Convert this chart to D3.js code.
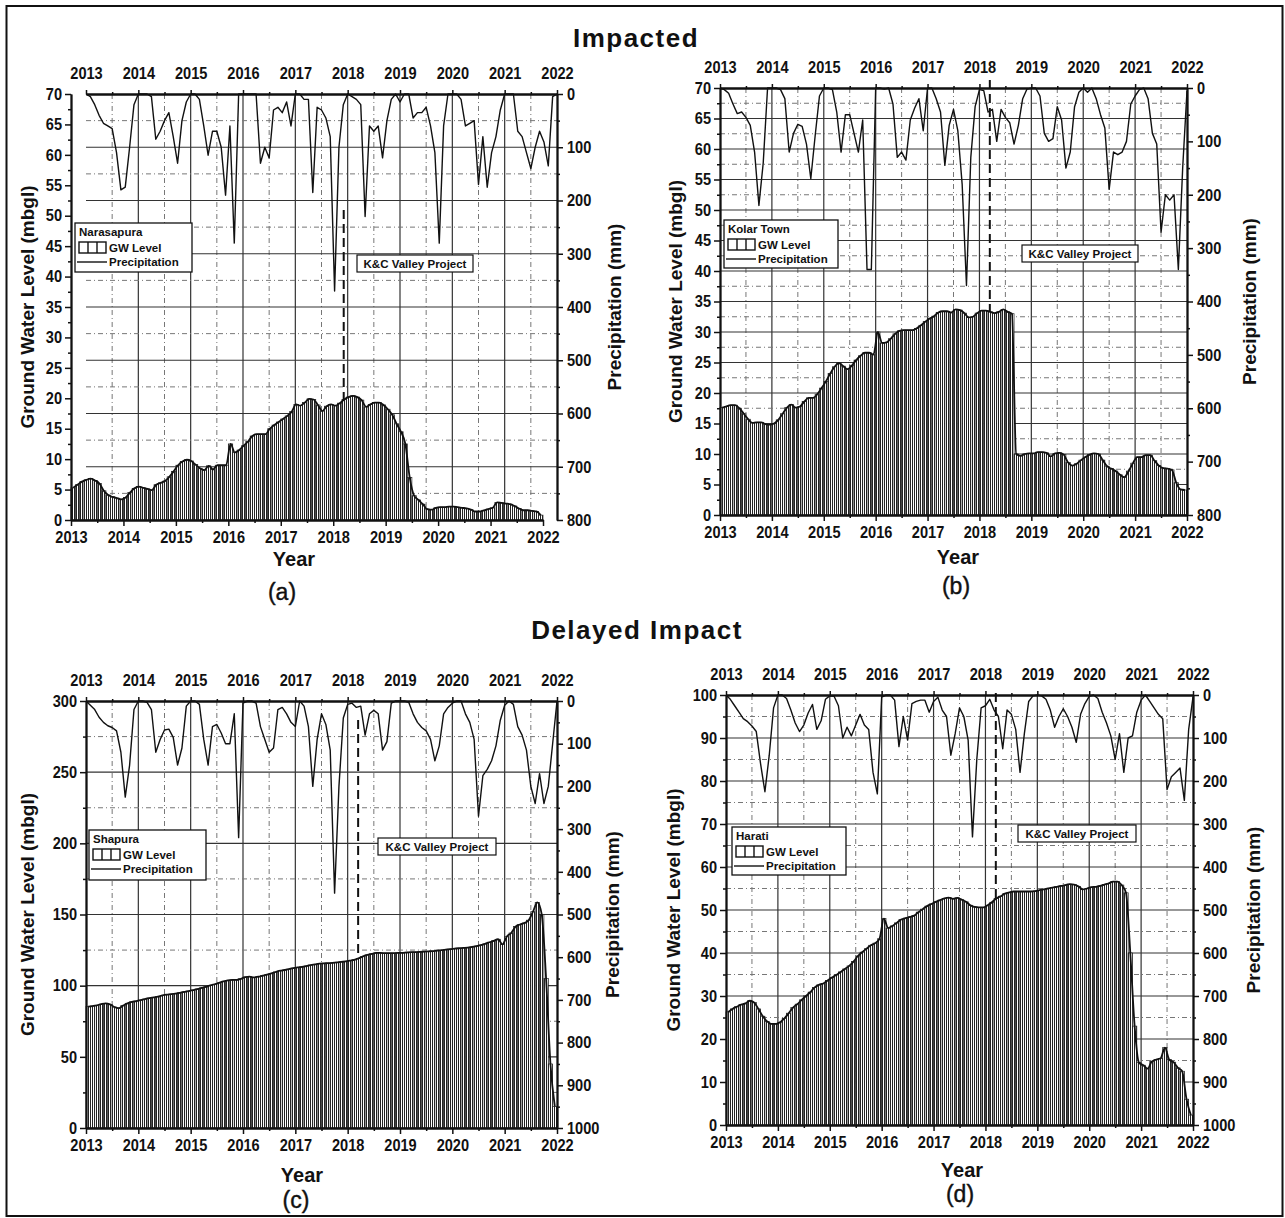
<!DOCTYPE html>
<html>
<head>
<meta charset="utf-8">
<script src="https://cdn.jsdelivr.net/npm/d3@7"></script>
<style>
  body { margin: 0; background: #fff; }
  svg { display: block; }
</style>
</head>
<body>
<svg id="chart" width="1285" height="1218"></svg>
<script>
const startYear = 2013
const yearTicks = [2013, 2014, 2015, 2016, 2017, 2018, 2019, 2020, 2021, 2022]
const projectStart = 2018.2   // K&C Valley Project

// monthly ground water level (mbgl), Jan 2013 .. Dec 2021
const gwNarasapura = [
  5.3, 5.8, 6.3, 6.6, 6.8, 6.5, 6.0, 4.8, 4.1, 3.8, 3.6, 3.4,
  3.7, 4.5, 5.2, 5.5, 5.3, 5.1, 4.9, 5.8, 6.1, 6.4, 7.1, 8.0,
  9.0, 9.6, 9.9, 9.7, 9.1, 8.5, 8.2, 8.9, 8.3, 9.0, 9.0, 9.0,
  12.5, 11.1, 11.5, 12.2, 12.9, 13.8, 14.1, 14.1, 14.1, 15.0, 15.6, 16.1,
  16.6, 17.1, 17.8, 19.0, 18.8, 19.3, 19.9, 19.8, 18.9, 17.9, 18.7, 19.0,
  18.8, 19.2, 19.8, 20.2, 20.4, 20.2, 19.7, 18.6, 19.0, 19.3, 19.3, 18.9,
  18.2, 17.3, 15.8, 14.5, 12.5, 7.0, 4.0, 3.3, 2.6, 1.8, 1.7, 2.0,
  2.1, 2.1, 2.2, 2.2, 2.1, 2.0, 1.9, 1.7, 1.4, 1.4, 1.6, 1.8,
  2.0, 2.9, 2.8, 2.7, 2.6, 2.3, 1.9, 1.6, 1.6, 1.5, 1.4, 0.8
]
const gwKolar = [
  17.6, 17.8, 18.0, 18.0, 17.5, 16.6, 15.7, 15.1, 15.2, 15.2, 14.9, 14.8,
  15.0, 15.6, 16.6, 17.6, 18.1, 17.6, 17.8, 18.6, 19.2, 19.2, 19.8, 20.8,
  21.9, 23.2, 24.3, 24.9, 24.4, 23.9, 24.5, 25.4, 26.1, 26.6, 26.6, 26.3,
  30.0, 28.2, 28.3, 28.9, 29.7, 30.2, 30.3, 30.3, 30.3, 30.6, 31.1, 31.7,
  32.2, 32.6, 33.2, 33.4, 33.4, 33.2, 33.7, 33.6, 33.1, 32.4, 32.5, 33.1,
  33.5, 33.5, 33.3, 33.1, 33.3, 33.7, 33.3, 33.0, 10.0, 9.7, 10.0, 10.1,
  10.1, 10.3, 10.3, 10.2, 9.6, 10.1, 10.2, 9.9, 8.6, 8.1, 8.4, 9.0,
  9.5, 9.9, 10.1, 10.0, 9.0, 8.0, 7.6, 7.2, 6.6, 6.2, 7.2, 8.5,
  9.5, 9.5, 9.8, 9.8, 8.9, 8.1, 7.7, 7.6, 7.4, 5.3, 4.2, 4.1
]
const gwShapura = [
  85.3, 85.7, 86.2, 87.0, 87.5, 86.8, 85.0, 84.2, 86.0, 87.6, 88.6, 89.2,
  89.9, 90.6, 91.3, 91.8, 92.3, 93.1, 93.7, 94.0, 94.4, 95.0, 95.6, 96.2,
  96.9, 97.6, 98.4, 99.2, 100.2, 101.0, 102.0, 103.0, 103.7, 104.0, 104.0, 104.8,
  106.0, 106.3, 105.8, 106.3, 107.0, 107.7, 108.6, 109.6, 110.5, 111.0, 111.6, 112.3,
  112.8, 113.2, 113.8, 114.5, 115.0, 115.5, 115.7, 115.8, 116.0, 116.3, 116.7, 117.0,
  117.6, 118.2, 119.2, 120.6, 121.6, 122.3, 123.0, 123.0, 122.8, 122.8, 122.8, 123.0,
  123.0, 123.3, 123.5, 123.6, 123.7, 123.9, 124.1, 124.3, 124.6, 124.9, 125.3, 125.7,
  126.0, 126.3, 126.5, 126.7, 127.2, 127.8, 128.5, 129.4, 130.5, 131.5, 132.6, 129.0,
  134.5, 137.0, 141.5, 143.0, 144.0, 146.0, 152.0, 158.5, 150.0, 105.0, 45.0, 15.0
]
const gwHarati = [
  26.3, 27.0, 27.5, 28.0, 28.3, 28.9, 28.5, 27.0, 25.3, 24.1, 23.5, 23.5,
  23.9, 24.8, 26.0, 27.3, 28.1, 29.1, 30.0, 30.9, 32.0, 32.6, 32.9, 33.6,
  34.3, 34.9, 35.6, 36.3, 37.0, 38.0, 39.3, 40.2, 41.0, 41.8, 42.3, 43.3,
  48.0, 45.8, 46.3, 47.0, 47.8, 48.1, 48.4, 48.7, 49.5, 50.2, 50.9, 51.4,
  51.9, 52.3, 52.7, 52.9, 52.6, 52.8, 52.4, 51.9, 51.1, 50.7, 50.6, 50.6,
  51.1, 51.8, 52.7, 53.2, 53.8, 54.1, 54.3, 54.3, 54.3, 54.3, 54.3, 54.4,
  54.6, 54.8, 55.0, 55.2, 55.4, 55.6, 55.8, 56.0, 55.9, 55.5, 54.8, 55.0,
  55.3, 55.4, 55.6, 55.9, 56.2, 56.6, 56.6, 55.8, 54.0, 40.0, 23.0, 14.5,
  13.9, 13.1, 14.8, 15.2, 15.5, 18.0, 15.2, 14.6, 13.3, 12.5, 6.0, 2.3
]

// monthly precipitation (mm), Jan 2013 .. Jan 2022
const rainNarasapura = [
  0, 5, 20, 40, 55, 60, 65, 110, 180, 175, 100, 20,
  0, 0, 0, 5, 85, 70, 50, 35, 80, 130, 50, 15,
  0, 0, 10, 60, 115, 70, 70, 100, 190, 60, 280, 0,
  0, 0, 0, 0, 130, 100, 120, 30, 25, 35, 15, 60,
  0, 0, 10, 10, 185, 25, 30, 45, 80, 370, 100, 20,
  0, 5, 10, 20, 230, 60, 70, 60, 120, 50, 10, 0,
  15, 0, 0, 45, 35, 35, 25, 60, 110, 280, 60, 0,
  0, 0, 10, 60, 55, 50, 170, 80, 175, 110, 80, 30,
  0, 0, 0, 70, 80, 110, 140, 100, 70, 90, 135, 5,
  0
]
const rainKolar = [
  0, 3, 10, 30, 48, 45, 55, 70, 120, 220, 140, 0,
  0, 0, 3, 20, 120, 85, 68, 72, 105, 170, 90, 15,
  0, 0, 3, 45, 120, 50, 50, 85, 120, 60, 340, 340,
  0, 0, 2, 0, 30, 130, 120, 135, 60, 38, 20, 80,
  0, 0, 20, 45, 145, 70, 40, 80, 180, 370, 130, 35,
  3, 5, 45, 40, 100, 40, 55, 65, 105, 70, 20, 2,
  0, 0, 15, 85, 100, 95, 35, 60, 150, 120, 35, 8,
  0, 8, 0, 20, 50, 75, 190, 120, 125, 120, 100, 30,
  15, 3, 0, 20, 85, 105, 270, 200, 210, 200, 340, 150,
  5
]
const rainShapura = [
  0, 10, 20, 38, 50, 58, 62, 70, 120, 225, 150, 20,
  0, 0, 3, 20, 120, 90, 68, 66, 85, 150, 110, 12,
  0, 0, 8, 90, 150, 60, 55, 75, 100, 100, 30, 320,
  5, 0, 0, 5, 60, 90, 120, 110, 20, 15, 30, 50,
  60, 0, 12, 60, 200, 90, 30, 55, 115, 450, 200, 40,
  8, 5, 15, 12, 80, 30, 22, 30, 115, 95, 5, 0,
  0, 0, 3, 30, 50, 62, 70, 90, 140, 105, 30, 15,
  5, 0, 0, 30, 50, 90, 270, 175, 160, 140, 105, 45,
  10, 0, 8, 60, 80, 115, 200, 240, 170, 240, 200, 100,
  0
]
const rainHarati = [
  0, 10, 25, 40, 55, 62, 72, 85, 160, 225, 140, 30,
  0, 0, 8, 35, 65, 85, 70, 42, 22, 80, 60, 10,
  2, 3, 25, 100, 75, 95, 70, 45, 70, 80, 180, 230,
  5, 0, 0, 12, 120, 50, 105, 20, 15, 12, 12, 40,
  15, 5, 35, 50, 140, 90, 30, 50, 105, 330, 150, 30,
  25, 10, 35, 50, 125, 35, 45, 80, 180, 90, 15, 2,
  0, 2, 10, 35, 75, 50, 32, 50, 75, 110, 45, 20,
  3, 0, 8, 40, 65, 95, 150, 90, 180, 100, 95, 40,
  12, 0, 15, 30, 45, 55, 220, 190, 180, 170, 245, 80,
  5
]

const panels = [
  {name: "Narasapura", tag: "(a)", gw: gwNarasapura, rain: rainNarasapura, gwMax: 70, gwStep: 5, rainMax: 800, rainStep: 100,
   gx: [71, 543], px: [86, 557], top: 94, bottom: 520, grid: "rain",
   leftTitleX: 27, rightTitleX: 614, yearX: 294, yearY: 559, tagX: 282, tagY: 592,
   legend: [75, 223, 117, 49], kc: [357, 255, 116, 17], dashTop: 210},
  {name: "Kolar Town", tag: "(b)", gw: gwKolar, rain: rainKolar, gwMax: 70, gwStep: 5, rainMax: 800, rainStep: 100,
   gx: [720, 1187], px: [720, 1187], top: 88, bottom: 515, grid: "gw",
   leftTitleX: 675, rightTitleX: 1249, yearX: 958, yearY: 557, tagX: 956, tagY: 586,
   legend: [724, 220, 114, 48], kc: [1022, 245, 116, 17], dashTop: 80},
  {name: "Shapura", tag: "(c)", gw: gwShapura, rain: rainShapura, gwMax: 300, gwStep: 50, rainMax: 1000, rainStep: 100,
   gx: [86, 557], px: [86, 557], top: 701, bottom: 1128, grid: "gw",
   leftTitleX: 27, rightTitleX: 612, yearX: 302, yearY: 1175, tagX: 296, tagY: 1200,
   legend: [89, 830, 117, 50], kc: [378, 838, 118, 17], dashTop: 720},
  {name: "Harati", tag: "(d)", gw: gwHarati, rain: rainHarati, gwMax: 100, gwStep: 10, rainMax: 1000, rainStep: 100,
   gx: [726, 1193], px: [726, 1193], top: 695, bottom: 1125, grid: "gw",
   leftTitleX: 673, rightTitleX: 1253, yearX: 962, yearY: 1170, tagX: 960, tagY: 1194,
   legend: [732, 827, 114, 48], kc: [1018, 825, 118, 17], dashTop: 693}
]

const mainFont = '"Liberation Sans", Arial, sans-serif'
const ink = "#111"

const svg = d3.select("#chart")

svg.append("rect").attr("width", 1285).attr("height", 1218).attr("fill", "#fff")

const defs = svg.append("defs")
const hatch = defs.append("pattern")
  .attr("id", "hatch")
  .attr("patternUnits", "userSpaceOnUse")
  .attr("width", 2).attr("height", 10)
hatch.append("rect").attr("width", 2).attr("height", 10).attr("fill", "#fff")
hatch.append("rect").attr("width", 1).attr("height", 10).attr("fill", "#222")

// outer border
svg.append("rect")
  .attr("x", 6.5).attr("y", 6).attr("width", 1276).attr("height", 1210)
  .attr("fill", "none").attr("stroke", ink).attr("stroke-width", 2)

svg.append("text")
  .attr("x", 636).attr("y", 47)
  .attr("text-anchor", "middle")
  .attr("font-family", mainFont).attr("font-weight", "bold").attr("font-size", 26)
  .attr("letter-spacing", 1.5).attr("fill", ink)
  .text("Impacted")

svg.append("text")
  .attr("x", 637).attr("y", 639)
  .attr("text-anchor", "middle")
  .attr("font-family", mainFont).attr("font-weight", "bold").attr("font-size", 26)
  .attr("letter-spacing", 1.5).attr("fill", ink)
  .text("Delayed Impact")

// narrow bold tick labels: squeeze the glyphs to the reference width
function styleAxis(g) {
  g.attr("font-family", mainFont).attr("font-size", 16.5).attr("font-weight", "bold")
  g.select(".domain").attr("stroke", ink).attr("stroke-width", 1.8)
  g.selectAll(".tick line").attr("stroke", ink).attr("stroke-width", 1.5)
  g.selectAll(".tick text").attr("fill", ink)
    .filter(function () { return this.textContent.length > 0 })
    .attr("textLength", function () { return this.textContent.length * 8.1 })
    .attr("lengthAdjust", "spacingAndGlyphs")
}

function drawPanel(p) {
  const g = svg.append("g")
  const gx = d3.scaleLinear().domain([startYear, 2022]).range(p.gx)
  const px = d3.scaleLinear().domain([startYear, 2022]).range(p.px)
  const gy = d3.scaleLinear().domain([0, p.gwMax]).range([p.bottom, p.top])
  const ry = d3.scaleLinear().domain([0, p.rainMax]).range([p.top, p.bottom])
  const midYears = yearTicks.slice(0, -1).map(d => d + 0.5)

  // grid
  const grid = g.append("g")
  grid.selectAll(".vmaj").data(yearTicks.slice(1, -1)).join("line")
    .attr("x1", d => px(d)).attr("x2", d => px(d))
    .attr("y1", p.top).attr("y2", p.bottom)
    .attr("stroke", "#333").attr("stroke-width", 1.2)
  grid.selectAll(".vmin").data(midYears).join("line")
    .attr("x1", d => px(d)).attr("x2", d => px(d))
    .attr("y1", p.top).attr("y2", p.bottom)
    .attr("stroke", "#777").attr("stroke-width", 1).attr("stroke-dasharray", "5,3,1,3")

  let hScale, hMaj, hMin
  if (p.grid === "rain") {
    hScale = ry
    hMaj = d3.range(p.rainStep, p.rainMax, p.rainStep)
    hMin = d3.range(p.rainStep / 2, p.rainMax, p.rainStep)
  } else {
    hScale = gy
    hMaj = d3.range(p.gwStep, p.gwMax, p.gwStep)
    hMin = d3.range(p.gwStep / 2, p.gwMax, p.gwStep)
  }
  grid.selectAll(".hmaj").data(hMaj).join("line")
    .attr("x1", p.px[0]).attr("x2", p.px[1])
    .attr("y1", d => hScale(d)).attr("y2", d => hScale(d))
    .attr("stroke", "#333").attr("stroke-width", 1.2)
  grid.selectAll(".hmin").data(hMin).join("line")
    .attr("x1", p.px[0]).attr("x2", p.px[1])
    .attr("y1", d => hScale(d)).attr("y2", d => hScale(d))
    .attr("stroke", "#777").attr("stroke-width", 1).attr("stroke-dasharray", "5,3,1,3")

  // project start
  g.append("line")
    .attr("x1", gx(projectStart)).attr("x2", gx(projectStart))
    .attr("y1", p.dashTop).attr("y2", p.bottom)
    .attr("stroke", ink).attr("stroke-width", 2).attr("stroke-dasharray", "9,5")

  // ground water bars
  const bw = gx(startYear + 1 / 12) - gx(startYear)
  g.append("g").selectAll("rect").data(p.gw).join("rect")
    .attr("x", (d, i) => gx(startYear + i / 12))
    .attr("y", d => gy(d))
    .attr("width", bw)
    .attr("height", d => p.bottom - gy(d))
    .attr("fill", "url(#hatch)")
    .attr("stroke", "#222").attr("stroke-width", 0.7)

  g.append("path")
    .datum(p.gw)
    .attr("fill", "none").attr("stroke", ink).attr("stroke-width", 1.8)
    .attr("d", d3.line()
      .x((d, i) => gx(startYear + i / 12) + bw / 2)
      .y(d => gy(d))
      .curve(d3.curveMonotoneX))

  // precipitation
  g.append("path")
    .datum(p.rain)
    .attr("fill", "none").attr("stroke", ink).attr("stroke-width", 1.4)
    .attr("stroke-linejoin", "round")
    .attr("d", d3.line()
      .x((d, i) => px(startYear + i / 12))
      .y(d => ry(d)))

  // axes
  const fmt = d3.format("d")
  const left = g.append("g").attr("transform", `translate(${p.gx[0]},0)`)
    .call(d3.axisLeft(gy).tickValues(d3.range(0, p.gwMax + 0.001, p.gwStep)).tickFormat(fmt).tickSize(6).tickSizeOuter(0).tickPadding(3))
  styleAxis(left)
  const leftMin = g.append("g").attr("transform", `translate(${p.gx[0]},0)`)
    .call(d3.axisLeft(gy).tickValues(d3.range(p.gwStep / 2, p.gwMax, p.gwStep)).tickSize(3).tickSizeOuter(0).tickFormat(""))
  styleAxis(leftMin)

  const bottom = g.append("g").attr("transform", `translate(0,${p.bottom})`)
    .call(d3.axisBottom(gx).tickValues(yearTicks).tickFormat(fmt).tickSize(6).tickSizeOuter(0).tickPadding(5))
  styleAxis(bottom)
  const bottomMin = g.append("g").attr("transform", `translate(0,${p.bottom})`)
    .call(d3.axisBottom(gx).tickValues(midYears).tickSize(3).tickSizeOuter(0).tickFormat(""))
  styleAxis(bottomMin)

  const right = g.append("g").attr("transform", `translate(${p.px[1]},0)`)
    .call(d3.axisRight(ry).tickValues(d3.range(0, p.rainMax + 0.001, p.rainStep)).tickFormat(fmt).tickSize(6).tickSizeOuter(0).tickPadding(4))
  styleAxis(right)
  const rightMin = g.append("g").attr("transform", `translate(${p.px[1]},0)`)
    .call(d3.axisRight(ry).tickValues(d3.range(p.rainStep / 2, p.rainMax, p.rainStep)).tickSize(3).tickSizeOuter(0).tickFormat(""))
  styleAxis(rightMin)

  const topAx = g.append("g").attr("transform", `translate(0,${p.top})`)
    .call(d3.axisTop(px).tickValues(yearTicks).tickFormat(fmt).tickSize(4).tickSizeOuter(0).tickPadding(11))
  styleAxis(topAx)
  const topMin = g.append("g").attr("transform", `translate(0,${p.top})`)
    .call(d3.axisTop(px).tickValues(midYears).tickSize(2).tickSizeOuter(0).tickFormat(""))
  styleAxis(topMin)

  // axis titles
  const midY = (p.top + p.bottom) / 2
  g.append("text")
    .attr("transform", `translate(${p.leftTitleX},${midY}) rotate(-90)`)
    .attr("text-anchor", "middle").attr("dy", "0.35em")
    .attr("font-family", mainFont).attr("font-weight", "bold").attr("font-size", 19).attr("fill", ink)
    .text("Ground Water Level (mbgl)")
  g.append("text")
    .attr("transform", `translate(${p.rightTitleX},${midY}) rotate(-90)`)
    .attr("text-anchor", "middle").attr("dy", "0.35em")
    .attr("font-family", mainFont).attr("font-weight", "bold").attr("font-size", 19).attr("fill", ink)
    .text("Precipitation (mm)")
  g.append("text")
    .attr("x", p.yearX).attr("y", p.yearY).attr("dy", "0.35em")
    .attr("text-anchor", "middle")
    .attr("font-family", mainFont).attr("font-weight", "bold").attr("font-size", 20).attr("fill", ink)
    .text("Year")
  g.append("text")
    .attr("x", p.tagX).attr("y", p.tagY).attr("dy", "0.35em")
    .attr("text-anchor", "middle")
    .attr("font-family", mainFont).attr("font-size", 23).attr("fill", ink)
    .attr("stroke", ink).attr("stroke-width", 0.4)
    .text(p.tag)

  // legend
  const [lx, ly, lw, lh] = p.legend
  const lg = g.append("g").attr("font-family", mainFont).attr("font-weight", "bold").attr("font-size", 11.5).attr("fill", ink)
  lg.append("rect").attr("x", lx).attr("y", ly).attr("width", lw).attr("height", lh)
    .attr("fill", "#fff").attr("stroke", ink).attr("stroke-width", 1.3)
  lg.append("text").attr("x", lx + 4).attr("y", ly + 13).text(p.name)
  lg.append("rect").attr("x", lx + 4).attr("y", ly + 19).attr("width", 27).attr("height", 11)
    .attr("fill", "#fff").attr("stroke", ink).attr("stroke-width", 1.4)
  ;[1, 2].forEach(k => {
    lg.append("line").attr("x1", lx + 4 + 9 * k).attr("x2", lx + 4 + 9 * k)
      .attr("y1", ly + 19).attr("y2", ly + 30).attr("stroke", ink).attr("stroke-width", 1.4)
  })
  lg.append("text").attr("x", lx + 34).attr("y", ly + 29).text("GW Level")
  lg.append("line").attr("x1", lx + 2).attr("x2", lx + 32).attr("y1", ly + 39).attr("y2", ly + 39)
    .attr("stroke", ink).attr("stroke-width", 1.4)
  lg.append("text").attr("x", lx + 34).attr("y", ly + 43).text("Precipitation")

  // project label
  const [kx, ky, kw, kh] = p.kc
  g.append("rect").attr("x", kx).attr("y", ky).attr("width", kw).attr("height", kh)
    .attr("fill", "#fff").attr("stroke", ink).attr("stroke-width", 1.2)
  g.append("text").attr("x", kx + kw / 2).attr("y", ky + kh / 2).attr("dy", "0.35em")
    .attr("text-anchor", "middle")
    .attr("font-family", mainFont).attr("font-weight", "bold").attr("font-size", 11.5).attr("fill", ink)
    .text("K&C Valley Project")
}

panels.forEach(drawPanel)
</script>
</body>
</html>
